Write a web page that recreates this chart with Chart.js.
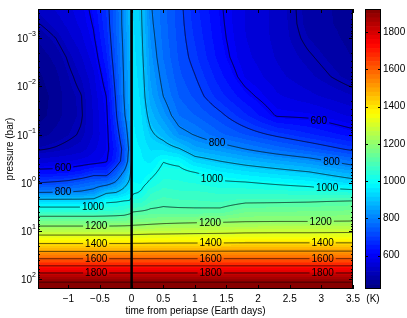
<!DOCTYPE html>
<html>
<head>
<meta charset="utf-8">
<script src="https://cdn.jsdelivr.net/npm/chart.js@4.4.1/dist/chart.umd.min.js"></script>
<style>
html, body { margin: 0; padding: 0; background: #fff; }
#wrap { position: relative; width: 407px; height: 318px; }
#wrap canvas { position: absolute; left: 0; top: 0; }
</style>
</head>
<body>
<div id="wrap">
<canvas id="tempChart" width="407" height="318"></canvas>
<canvas id="colorBar" width="407" height="318"></canvas>
</div>
<script>
// grid columns: time from periapse (Earth days)
const times = [-1.48, -1.2, -1.0, -0.8, -0.6, -0.4, -0.25, -0.12, -0.03, 0.03, 0.15, 0.3, 0.5, 0.75, 1.0, 1.4, 1.8, 2.3, 2.8, 3.5];
// grid rows: pressure (bar)
const pressures = [2.5e-4, 5e-4, 1e-3, 2.5e-3, 6.3e-3, 0.016, 0.04, 0.1, 0.2, 0.355, 0.63, 1, 1.58, 2.5, 4, 6.3, 10, 15.8, 25, 40, 63, 100, 158];
// temperature (K), one row per pressure, one value per time
const temps = [
  [520, 540, 555, 575, 615, 680, 750, 820, 880, 935, 905, 805, 760, 712, 665, 605, 560, 530, 480, 455],
  [498, 525, 545, 568, 605, 675, 748, 820, 880, 938, 908, 810, 762, 714, 670, 608, 560, 530, 482, 455],
  [470, 500, 530, 555, 595, 665, 742, 815, 875, 942, 912, 818, 765, 717, 676, 612, 562, 530, 490, 458],
  [450, 475, 505, 535, 575, 650, 732, 810, 870, 946, 918, 828, 772, 722, 686, 620, 568, 535, 505, 465],
  [438, 460, 490, 515, 555, 625, 720, 805, 865, 950, 925, 840, 785, 732, 702, 640, 582, 545, 520, 480],
  [430, 452, 480, 498, 545, 600, 705, 802, 860, 955, 932, 852, 800, 748, 720, 665, 615, 565, 545, 515],
  [432, 455, 480, 495, 540, 590, 690, 790, 850, 960, 940, 880, 830, 772, 750, 710, 660, 595, 590, 555],
  [455, 475, 490, 505, 540, 585, 665, 750, 835, 965, 950, 910, 880, 820, 797, 755, 725, 690, 660, 620],
  [495, 505, 515, 525, 555, 585, 645, 722, 820, 970, 960, 935, 930, 905, 855, 830, 800, 765, 735, 690],
  [550, 555, 560, 570, 578, 595, 660, 730, 840, 975, 965, 955, 998, 985, 930, 900, 875, 850, 825, 770],
  [625, 628, 635, 650, 680, 675, 740, 815, 880, 980, 972, 985, 1020, 1020, 1005, 970, 950, 930, 910, 860],
  [700, 710, 720, 740, 760, 770, 810, 870, 915, 985, 982, 1010, 1040, 1035, 1030, 1010, 1005, 990, 975, 930],
  [800, 802, 805, 810, 825, 890, 900, 930, 955, 992, 1005, 1050, 1068, 1060, 1060, 1050, 1050, 1045, 1040, 1030],
  [940, 940, 940, 940, 940, 995, 1000, 1010, 1010, 1048, 1050, 1080, 1090, 1085, 1083, 1078, 1095, 1097, 1100, 1110],
  [1058, 1058, 1058, 1058, 1058, 1062, 1065, 1070, 1085, 1100, 1105, 1110, 1112, 1112, 1112, 1115, 1148, 1150, 1152, 1157],
  [1150, 1150, 1150, 1150, 1150, 1150, 1152, 1155, 1158, 1160, 1165, 1172, 1180, 1185, 1188, 1192, 1198, 1200, 1200, 1202],
  [1255, 1255, 1255, 1255, 1255, 1255, 1255, 1255, 1255, 1262, 1265, 1268, 1270, 1272, 1275, 1278, 1283, 1285, 1285, 1288],
  [1365, 1365, 1365, 1365, 1365, 1365, 1365, 1365, 1365, 1368, 1368, 1370, 1370, 1372, 1372, 1373, 1375, 1375, 1375, 1375],
  [1485, 1485, 1485, 1485, 1485, 1485, 1485, 1485, 1485, 1486, 1486, 1487, 1488, 1488, 1488, 1489, 1490, 1490, 1490, 1490],
  [1620, 1620, 1620, 1620, 1620, 1620, 1620, 1620, 1620, 1620, 1620, 1620, 1620, 1620, 1620, 1620, 1620, 1620, 1620, 1620],
  [1755, 1755, 1755, 1755, 1755, 1755, 1755, 1755, 1755, 1755, 1755, 1755, 1755, 1755, 1755, 1755, 1755, 1755, 1755, 1755],
  [1890, 1890, 1890, 1890, 1890, 1890, 1890, 1890, 1890, 1890, 1890, 1890, 1890, 1890, 1890, 1890, 1890, 1890, 1890, 1890],
  [1925, 1925, 1925, 1925, 1925, 1925, 1925, 1925, 1925, 1925, 1925, 1925, 1925, 1925, 1925, 1925, 1925, 1925, 1925, 1925]
];

const contourLevels = [500, 600, 700, 800, 900, 1000, 1100, 1200, 1300, 1400, 1500, 1600, 1700, 1800, 1900];
// inline contour labels: [time, approx pressure, level]
const contourLabels = [
  [-1.085, 0.56, 600], [-1.085, 1.58, 800], [-0.61, 2.8, 1000], [-0.56, 8.0, 1200],
  [-0.56, 20, 1400], [-0.56, 41, 1600], [-0.56, 83, 1800],
  [1.35, 0.135, 800], [1.27, 0.74, 1000], [1.24, 6.9, 1200], [1.25, 19, 1400], [1.25, 39, 1600], [1.25, 79, 1800],
  [2.96, 0.055, 600], [3.16, 0.38, 800], [3.09, 1.26, 1000], [2.99, 6.3, 1200], [3.02, 19, 1400], [3.02, 39, 1600], [3.02, 79, 1800]
];

const xTicks = [-1, -0.5, 0, 0.5, 1, 1.5, 2, 2.5, 3, 3.5];
const xTickLabels = ['−1', '−0.5', '0', '0.5', '1', '1.5', '2', '2.5', '3', '3.5'];
const yTicks = [1e-3, 1e-2, 1e-1, 1, 10, 100];
const yTickExps = ['−3', '−2', '−1', '0', '1', '2'];
const cbTicks = [600, 800, 1000, 1200, 1400, 1600, 1800];
const tempRange = [420, 1925];
const nColors = 64;

const FONT = "'Liberation Sans', Arial, sans-serif";
Chart.defaults.font.family = FONT;
Chart.defaults.font.size = 10;
Chart.defaults.color = '#000';

const logP = pressures.map(p => Math.log10(p));

function locate(arr, v) {
  const n = arr.length;
  if (v <= arr[0]) return [0, 0];
  if (v >= arr[n - 1]) return [n - 2, 1];
  let i = 0;
  while (arr[i + 1] < v) i++;
  return [i, (v - arr[i]) / (arr[i + 1] - arr[i])];
}

function tempAt(t, lp) {
  const [i, fx] = locate(times, t);
  const [j, fy] = locate(logP, lp);
  const a = temps[j][i], b = temps[j][i + 1], c = temps[j + 1][i], d = temps[j + 1][i + 1];
  return (a * (1 - fx) + b * fx) * (1 - fy) + (c * (1 - fx) + d * fx) * fy;
}

function jet(f) {
  const cl = v => Math.min(1, Math.max(0, v));
  return [cl(1.5 - Math.abs(4 * f - 3)), cl(1.5 - Math.abs(4 * f - 2)), cl(1.5 - Math.abs(4 * f - 1))]
    .map(v => Math.round(v * 255));
}
const jetColors = [];
for (let k = 0; k < nColors; k++) jetColors.push(jet((k + 0.5) / nColors));

function colorIndex(T) {
  const k = Math.floor((T - tempRange[0]) / (tempRange[1] - tempRange[0]) * nColors);
  return Math.min(nColors - 1, Math.max(0, k));
}

// marching squares over the sampled field
function addContour(ctx, field, W, H, level, ox, oy) {
  for (let j = 0; j < H - 1; j++) {
    for (let i = 0; i < W - 1; i++) {
      const a = field[j * W + i], b = field[j * W + i + 1];
      const c = field[(j + 1) * W + i + 1], d = field[(j + 1) * W + i];
      const code = (a > level ? 8 : 0) | (b > level ? 4 : 0) | (c > level ? 2 : 0) | (d > level ? 1 : 0);
      if (code === 0 || code === 15) continue;
      const top = [i + (level - a) / (b - a), j];
      const right = [i + 1, j + (level - b) / (c - b)];
      const bottom = [i + (level - d) / (c - d), j + 1];
      const left = [i, j + (level - a) / (d - a)];
      let segs;
      switch (code) {
        case 1: case 14: segs = [[left, bottom]]; break;
        case 2: case 13: segs = [[bottom, right]]; break;
        case 3: case 12: segs = [[left, right]]; break;
        case 4: case 11: segs = [[top, right]]; break;
        case 6: case 9: segs = [[top, bottom]]; break;
        case 7: case 8: segs = [[left, top]]; break;
        case 5: segs = [[top, right], [left, bottom]]; break;
        case 10: segs = [[left, top], [bottom, right]]; break;
      }
      segs.forEach(([p, q]) => {
        ctx.moveTo(ox + p[0], oy + p[1]);
        ctx.lineTo(ox + q[0], oy + q[1]);
      });
    }
  }
}

const heatmap = {
  id: 'heatmap',
  beforeDatasetsDraw(chart) {
    const { ctx, chartArea: a, scales: { x, y } } = chart;
    const W = Math.round(a.right - a.left), H = Math.round(a.bottom - a.top);
    const ts = [], lps = [];
    for (let i = 0; i < W; i++) ts.push(x.getValueForPixel(a.left + i + 0.5));
    for (let j = 0; j < H; j++) lps.push(Math.log10(y.getValueForPixel(a.top + j + 0.5)));
    const field = new Float32Array(W * H);
    for (let j = 0; j < H; j++)
      for (let i = 0; i < W; i++) field[j * W + i] = tempAt(ts[i], lps[j]);

    const off = document.createElement('canvas');
    off.width = W; off.height = H;
    const octx = off.getContext('2d');
    const img = octx.createImageData(W, H);
    for (let n = 0; n < W * H; n++) {
      const col = jetColors[colorIndex(field[n])];
      img.data[n * 4] = col[0];
      img.data[n * 4 + 1] = col[1];
      img.data[n * 4 + 2] = col[2];
      img.data[n * 4 + 3] = 255;
    }
    octx.putImageData(img, 0, 0);
    ctx.drawImage(off, a.left, a.top);

    // place labels on their contour
    ctx.save();
    ctx.font = '10px ' + FONT;
    const placed = contourLabels.map(([t, p, level]) => {
      const px = x.getPixelForValue(t);
      const py0 = y.getPixelForValue(p);
      let best = py0, bestD = Infinity;
      let prev = null;
      for (let py = py0 - 14; py <= py0 + 14; py += 0.25) {
        const v = tempAt(t, Math.log10(y.getValueForPixel(py))) - level;
        if (prev !== null && prev.v * v <= 0) {
          const cy = prev.py + (py - prev.py) * (prev.v / (prev.v - v));
          if (Math.abs(cy - py0) < bestD) { bestD = Math.abs(cy - py0); best = cy; }
        }
        prev = { py, v };
      }
      return { x: px, y: best, text: String(level), w: ctx.measureText(String(level)).width };
    });

    ctx.beginPath();
    ctx.rect(a.left, a.top, W, H);
    placed.forEach(l => ctx.rect(l.x - l.w / 2 - 2, l.y - 5, l.w + 4, 10));
    ctx.clip('evenodd');
    ctx.beginPath();
    contourLevels.forEach(level => addContour(ctx, field, W, H, level, a.left + 0.5, a.top + 0.5));
    ctx.lineWidth = 0.7;
    ctx.strokeStyle = '#000';
    ctx.stroke();
    ctx.restore();

    ctx.save();
    ctx.font = '10px ' + FONT;
    ctx.fillStyle = '#000';
    ctx.textAlign = 'center';
    ctx.textBaseline = 'middle';
    placed.forEach(l => ctx.fillText(l.text, l.x, l.y + 0.5));
    ctx.restore();
  }
};

const frameTicks = {
  id: 'frameTicks',
  afterDraw(chart) {
    const { ctx, chartArea: a, scales: { x, y } } = chart;
    ctx.save();
    ctx.strokeStyle = '#000';
    ctx.lineWidth = 1;
    ctx.beginPath();
    xTicks.forEach(v => {
      const px = Math.round(x.getPixelForValue(v)) + 0.5;
      ctx.moveTo(px, a.bottom); ctx.lineTo(px, a.bottom - 4);
      ctx.moveTo(px, a.top); ctx.lineTo(px, a.top + 4);
    });
    for (let k = -4; k <= 2; k++) {
      for (let m = 1; m <= 9; m++) {
        const v = m * Math.pow(10, k);
        if (v < y.min || v > y.max) continue;
        const py = Math.round(y.getPixelForValue(v)) + 0.5;
        const len = m === 1 ? 4 : 2;
        ctx.moveTo(a.left, py); ctx.lineTo(a.left + len, py);
        ctx.moveTo(a.right, py); ctx.lineTo(a.right - len, py);
      }
    }
    ctx.stroke();
    ctx.strokeRect(a.left + 0.5, a.top + 0.5, a.right - a.left - 1, a.bottom - a.top - 1);

    // y tick labels: base 10 with a raised exponent
    ctx.fillStyle = '#000';
    ctx.textBaseline = 'alphabetic';
    ctx.textAlign = 'right';
    yTicks.forEach((v, i) => {
      const py = y.getPixelForValue(v);
      ctx.font = '7px ' + FONT;
      const ew = ctx.measureText(yTickExps[i]).width;
      const xr = a.left - 2;
      ctx.fillText(yTickExps[i], xr, py - 2);
      ctx.font = '10px ' + FONT;
      ctx.fillText('10', xr - ew, py + 4);
    });
    ctx.restore();
  }
};

new Chart(document.getElementById('tempChart'), {
  type: 'scatter',
  data: {
    datasets: [{
      label: 'periapse',
      data: [{ x: 0, y: pressures[0] }, { x: 0, y: pressures[pressures.length - 1] }],
      showLine: true,
      borderColor: '#000',
      borderWidth: 2.5,
      pointRadius: 0
    }]
  },
  options: {
    responsive: false,
    animation: false,
    events: [],
    layout: { padding: { left: 0, top: 9, right: 54, bottom: 0 } },
    plugins: { legend: { display: false }, tooltip: { enabled: false } },
    scales: {
      x: {
        type: 'linear',
        min: -1.48,
        max: 3.5,
        grid: { display: false, drawTicks: false },
        border: { display: false },
        afterBuildTicks: s => { s.ticks = xTicks.map(v => ({ value: v })); },
        afterFit: s => { s.height = 29; },
        ticks: { padding: 4, maxRotation: 0, autoSkip: false, callback: (v, i) => xTickLabels[i] },
        title: { display: true, text: 'time from periapse (Earth days)', padding: { top: 0, bottom: 1 } }
      },
      y: {
        type: 'logarithmic',
        reverse: true,
        min: pressures[0],
        max: pressures[pressures.length - 1],
        grid: { display: false, drawTicks: false },
        border: { display: false },
        afterBuildTicks: s => { s.ticks = yTicks.map(v => ({ value: v })); },
        afterFit: s => { s.width = 38; },
        ticks: { display: false },
        title: { display: true, text: 'pressure (bar)', padding: { top: 4, bottom: 0 } }
      }
    }
  },
  plugins: [heatmap, frameTicks]
});

// colour bar: one floating bar per colour step
const step = (tempRange[1] - tempRange[0]) / nColors;
const barSets = jetColors.map((c, k) => ({
  data: [[tempRange[0] + k * step, tempRange[0] + (k + 1) * step]],
  backgroundColor: `rgb(${c[0]},${c[1]},${c[2]})`,
  borderWidth: 0,
  grouped: false,
  categoryPercentage: 1,
  barPercentage: 1
}));

const barFrame = {
  id: 'barFrame',
  afterDraw(chart) {
    const { ctx, chartArea: a, scales: { y } } = chart;
    ctx.save();
    ctx.strokeStyle = '#000';
    ctx.lineWidth = 1;
    ctx.beginPath();
    cbTicks.forEach(v => {
      const py = Math.round(y.getPixelForValue(v)) + 0.5;
      ctx.moveTo(a.left, py); ctx.lineTo(a.left + 3, py);
      ctx.moveTo(a.right, py); ctx.lineTo(a.right - 3, py);
    });
    ctx.stroke();
    ctx.strokeRect(a.left + 0.5, a.top + 0.5, a.right - a.left - 1, a.bottom - a.top - 1);
    ctx.restore();
  }
};

new Chart(document.getElementById('colorBar'), {
  type: 'bar',
  data: { labels: [''], datasets: barSets },
  options: {
    responsive: false,
    animation: false,
    events: [],
    layout: { padding: { left: 365, top: 9, right: 0, bottom: 0 } },
    plugins: { legend: { display: false }, tooltip: { enabled: false } },
    scales: {
      x: {
        grid: { display: false, drawTicks: false },
        border: { display: false },
        ticks: { display: false },
        afterFit: s => { s.height = 29; },
        title: { display: true, text: '(K)', padding: { top: 0, bottom: 13 } }
      },
      y: {
        position: 'right',
        min: tempRange[0],
        max: tempRange[1],
        grid: { display: false, drawTicks: false },
        border: { display: false },
        afterBuildTicks: s => { s.ticks = cbTicks.map(v => ({ value: v })); },
        afterFit: s => { s.width = 26; },
        ticks: { padding: 2, autoSkip: false, callback: v => String(v) }
      }
    }
  },
  plugins: [barFrame]
});
</script>
</body>
</html>
